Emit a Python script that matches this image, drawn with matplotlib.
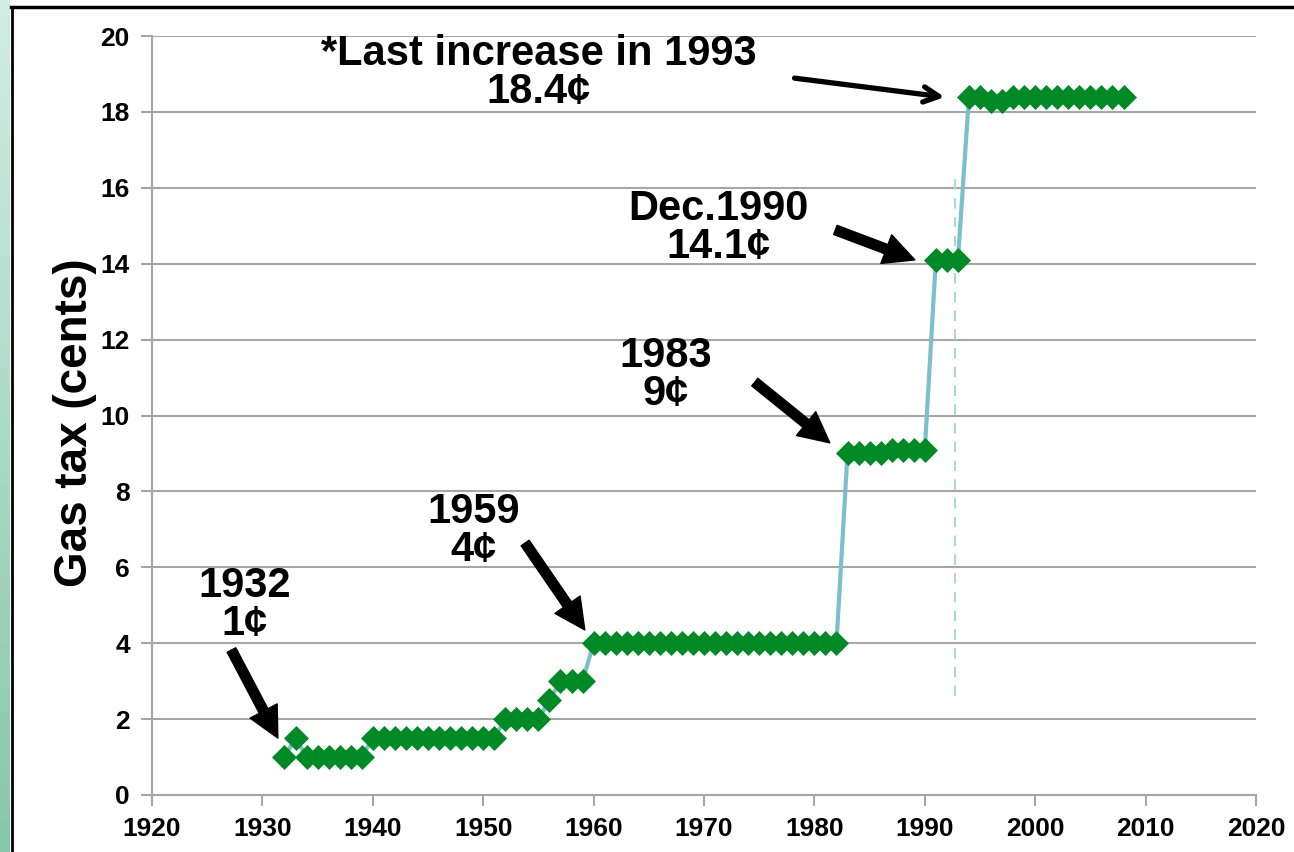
import numpy as np
import matplotlib
matplotlib.use("Agg")
import matplotlib.pyplot as plt
from matplotlib.lines import Line2D
from matplotlib.colors import LinearSegmentedColormap

plt.rcParams['font.family'] = ['Liberation Sans', 'DejaVu Sans']

years = list(range(1932, 2009))
tax = ([1.0, 1.5] + [1.0] * 6 + [1.5] * 12 + [2.0] * 4 + [2.5] + [3.0] * 3
       + [4.0] * 23 + [9.0] * 4 + [9.1] * 4 + [14.1] * 3
       + [18.4, 18.4, 18.3, 18.3] + [18.4] * 11)

x_ticks = [1920, 1930, 1940, 1950, 1960, 1970, 1980, 1990, 2000, 2010, 2020]
y_ticks = [0, 2, 4, 6, 8, 10, 12, 14, 16, 18, 20]
y_label = "Gas tax (cents)"

# annotations: (text, text position, arrow tail, arrow head, open head?)
notes = [
    ("1932\n1¢", (1928.4, 5.0), (1927.2, 3.82), (1931.4, 1.50), False),
    ("1959\n4¢", (1949.1, 6.96), (1953.8, 6.64), (1959.2, 4.35), False),
    ("1983\n9¢", (1966.5, 11.07), (1974.6, 10.88), (1981.4, 9.28), False),
    ("Dec.1990\n14.1¢", (1971.3, 14.94), (1981.9, 14.89), (1989.1, 14.10), False),
    ("*Last increase in 1993\n18.4¢", (1955.0, 19.03), (1978.2, 18.89), (1991.8, 18.39), True),
]
dash_x = 1992.7
dash_range = (2.6, 16.4)

fig = plt.figure(figsize=(12.94, 8.52), dpi=100)
fig.patch.set_facecolor('white')

# left teal gradient strip
sax = fig.add_axes([0, 0, 10 / 1294, 1])
grad = np.linspace(0, 1, 256).reshape(-1, 1)
cm = LinearSegmentedColormap.from_list('t', ['#86c7a9', '#d3ece4'])
sax.imshow(grad, aspect='auto', cmap=cm, origin='lower', extent=[0, 1, 0, 1])
sax.axis('off')

fig.add_artist(Line2D([11.5 / 1294, 11.5 / 1294], [0, 1 - 7 / 852], color='black', lw=2,
                      transform=fig.transFigure))
fig.add_artist(Line2D([11 / 1294, 1], [1 - 7 / 852, 1 - 7 / 852], color='black', lw=2.5,
                      transform=fig.transFigure))

ax = fig.add_axes([152 / 1294, 1 - 795 / 852, (1256 - 152) / 1294, (795 - 36) / 852])
ax.set_xlim(1920, 2020)
ax.set_ylim(0, 20)
ax.set_xticks(x_ticks)
ax.set_yticks(y_ticks)
ax.grid(axis='y', color='#a6a6a6', lw=1.5)
ax.set_axisbelow(True)
for s in ['top', 'right']:
    ax.spines[s].set_visible(False)
for s in ['left', 'bottom']:
    ax.spines[s].set_color('#a6a6a6')
    ax.spines[s].set_linewidth(1.5)
ax.tick_params(axis='both', colors='#a6a6a6', width=1.5, length=8, labelcolor='black',
               labelsize=19)
ax.tick_params(axis='y', pad=8)
ax.tick_params(axis='x', pad=8)
for lab in ax.get_xticklabels() + ax.get_yticklabels():
    lab.set_fontweight('bold')
ax.set_ylabel(y_label, fontsize=33, fontweight='bold', va='center')
ax.yaxis.set_label_coords(-0.0697, 0.491)

ax.plot([dash_x, dash_x], dash_range, color='#a9d8dc', lw=1.5, ls=(0, (5, 4)), zorder=2)
ax.plot(years, tax, color='#7bbfcb', lw=3, zorder=3)
ax.plot(years, tax, ls='none', marker='D', ms=12, color='#008a26', mec='#008a26',
        mew=0.5, zorder=4)

for text, tpos, tail, head, open_head in notes:
    ax.text(tpos[0], tpos[1], text, ha='center', va='center', fontsize=30,
            fontweight='bold', linespacing=0.92)
    if open_head:
        ax.annotate('', xy=head, xytext=tail,
                    arrowprops=dict(arrowstyle='->,head_length=1.1,head_width=0.55',
                                    color='black', lw=3.8, shrinkA=0, shrinkB=0))
    else:
        ax.annotate('', xy=head, xytext=tail,
                    arrowprops=dict(facecolor='black', edgecolor='black', width=7,
                                    headwidth=22, headlength=22, shrink=0))

fig.savefig('out.png', dpi=100, facecolor='white')
